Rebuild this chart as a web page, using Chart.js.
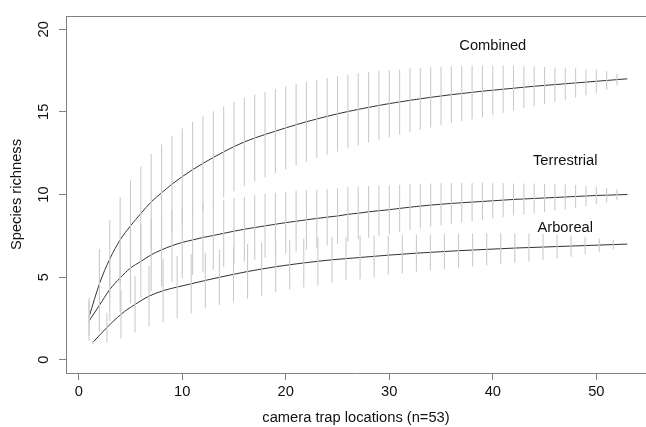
<!DOCTYPE html>
<html>
<head>
<meta charset="utf-8">
<script src="https://cdn.jsdelivr.net/npm/chart.js@4.4.1/dist/chart.umd.min.js"></script>
<style>
  html, body { margin: 0; padding: 0; background: #fff; }
  #wrap { width: 646px; height: 427px; position: relative; overflow: hidden; }
</style>
</head>
<body>
<div id="wrap"><canvas id="chart"></canvas></div>
<script>
// camera trap locations 1..53 (combined and terrestrial curves)
const sites = [1, 2, 3, 4, 5, 6, 7, 8, 9, 10, 11, 12, 13, 14, 15, 16, 17, 18, 19, 20,
  21, 22, 23, 24, 25, 26, 27, 28, 29, 30, 31, 32, 33, 34, 35, 36, 37, 38, 39, 40,
  41, 42, 43, 44, 45, 46, 47, 48, 49, 50, 51, 52, 53];

const combinedMean = [2.6, 4.6, 6.1, 7.25, 8.1, 8.85, 9.55, 10.1, 10.62, 11.08,
  11.5, 11.88, 12.24, 12.58, 12.9, 13.18, 13.42, 13.63, 13.83, 14.03,
  14.22, 14.4, 14.57, 14.73, 14.88, 15.02, 15.15, 15.27, 15.39, 15.5,
  15.6, 15.7, 15.79, 15.88, 15.96, 16.04, 16.11, 16.18, 16.25, 16.31,
  16.37, 16.43, 16.49, 16.55, 16.6, 16.65, 16.7, 16.75, 16.8, 16.85,
  16.9, 16.95, 17.0];
const combinedCi = [1.15, 2.1, 2.35, 2.6, 2.75, 2.85, 2.9, 2.92, 2.93, 2.92,
  2.9, 2.85, 2.8, 2.75, 2.7, 2.67, 2.63, 2.59, 2.54, 2.5,
  2.46, 2.42, 2.37, 2.32, 2.28, 2.23, 2.18, 2.13, 2.08, 2.02,
  1.97, 1.92, 1.87, 1.82, 1.77, 1.72, 1.67, 1.62, 1.56, 1.5,
  1.43, 1.35, 1.27, 1.2, 1.12, 1.04, 0.96, 0.88, 0.8, 0.7,
  0.56, 0.36, 0];

const terrestrialMean = [2.35, 3.3, 4.25, 4.95, 5.55, 5.95, 6.35, 6.65, 6.9, 7.1,
  7.25, 7.4, 7.52, 7.65, 7.78, 7.9, 8.0, 8.1, 8.2, 8.3,
  8.38, 8.47, 8.55, 8.63, 8.7, 8.8, 8.87, 8.95, 9.02, 9.08,
  9.16, 9.23, 9.3, 9.36, 9.41, 9.46, 9.5, 9.54, 9.58, 9.62,
  9.66, 9.7, 9.73, 9.76, 9.79, 9.82, 9.85, 9.88, 9.91, 9.94,
  9.96, 9.98, 10.0];
const terrestrialCi = [1.2, 1.6, 1.9, 2.05, 2.15, 2.2, 2.2, 2.2, 2.18, 2.15,
  2.12, 2.1, 2.06, 2.03, 2.0, 1.97, 1.95, 1.93, 1.9, 1.87,
  1.84, 1.8, 1.76, 1.72, 1.68, 1.64, 1.6, 1.56, 1.52, 1.47,
  1.43, 1.39, 1.35, 1.31, 1.27, 1.23, 1.2, 1.16, 1.13, 1.08,
  1.03, 0.97, 0.94, 0.9, 0.86, 0.81, 0.75, 0.69, 0.62, 0.53,
  0.44, 0.32, 0];

// arboreal curve is sampled at its own (rescaled) positions
const arborealSites = [1.36, 2.72, 4.08, 5.44, 6.79, 8.15, 9.51, 10.87, 12.23, 13.59,
  14.95, 16.31, 17.67, 19.03, 20.38, 21.74, 23.1, 24.46, 25.82, 27.18,
  28.54, 29.9, 31.26, 32.62, 33.97, 35.33, 36.69, 38.05, 39.41, 40.77,
  42.13, 43.49, 44.85, 46.21, 47.56, 48.92, 50.28, 51.64, 53.0];
const arborealMean = [1.05, 1.95, 2.75, 3.35, 3.85, 4.18, 4.4, 4.6, 4.8, 4.99,
  5.17, 5.34, 5.49, 5.63, 5.75, 5.86, 5.96, 6.05, 6.12, 6.19,
  6.26, 6.33, 6.39, 6.45, 6.5, 6.55, 6.6, 6.64, 6.68, 6.72,
  6.76, 6.79, 6.82, 6.85, 6.88, 6.91, 6.94, 6.97, 7.0];
const arborealCi = [0.1, 0.9, 1.44, 1.7, 1.84, 1.92, 1.88, 1.78, 1.68, 1.68,
  1.66, 1.65, 1.61, 1.55, 1.5, 1.48, 1.44, 1.38, 1.33, 1.32,
  1.26, 1.19, 1.15, 1.12, 1.09, 1.06, 1.03, 1.0, 0.97, 0.94,
  0.9, 0.85, 0.79, 0.72, 0.64, 0.53, 0.4, 0.28, 0];

// text labels placed in data units, as in the original plot
const curveLabels = [
  { text: 'Combined', x: 40, y: 19 },
  { text: 'Terrestrial', x: 47, y: 12 },
  { text: 'Arboreal', x: 47, y: 8 }
];

const FONT = '"Liberation Sans", Arial, Helvetica, sans-serif';
const AXIS_GREY = '#808080';

function curve(xs, ys) {
  return xs.map((x, i) => ({ x: x, y: ys[i] }));
}

function bars(xs, ys, ci) {
  const pts = [];
  xs.forEach((x, i) => {
    pts.push({ x: x, y: ys[i] - ci[i] });
    pts.push({ x: x, y: ys[i] + ci[i] });
    pts.push({ x: x, y: null });
  });
  return pts;
}

const barStyle = { borderColor: '#cbcbcb', borderWidth: 1.1, pointRadius: 0, spanGaps: false, fill: false };
const lineStyle = {
  borderColor: '#333333', borderWidth: 1, pointRadius: 0,
  cubicInterpolationMode: 'monotone', fill: false
};

const boxAndLabels = {
  id: 'boxAndLabels',
  afterDatasetsDraw(chart) {
    const { ctx, chartArea, scales } = chart;
    ctx.save();
    ctx.strokeStyle = AXIS_GREY;
    ctx.lineWidth = 1;
    ctx.beginPath();
    ctx.moveTo(chartArea.left, chartArea.top + 0.5);
    ctx.lineTo(chartArea.right, chartArea.top + 0.5);
    ctx.stroke();
    ctx.fillStyle = '#111';
    ctx.font = '14.7px ' + FONT;
    ctx.textAlign = 'center';
    ctx.textBaseline = 'middle';
    curveLabels.forEach(l => {
      ctx.fillText(l.text, scales.x.getPixelForValue(l.x), scales.y.getPixelForValue(l.y));
    });
    ctx.restore();
  }
};

new Chart(document.getElementById('chart'), {
  type: 'line',
  data: {
    datasets: [
      Object.assign({ data: bars(sites, combinedMean, combinedCi) }, barStyle),
      Object.assign({ data: bars(sites, terrestrialMean, terrestrialCi) }, barStyle),
      Object.assign({ data: bars(arborealSites, arborealMean, arborealCi) }, barStyle),
      Object.assign({ data: curve(sites, combinedMean) }, lineStyle),
      Object.assign({ data: curve(sites, terrestrialMean) }, lineStyle),
      Object.assign({ data: curve(arborealSites, arborealMean) }, lineStyle)
    ]
  },
  options: {
    responsive: true,
    maintainAspectRatio: false,
    animation: false,
    layout: { padding: { top: 16, right: 0, bottom: 0, left: 0 } },
    plugins: {
      legend: { display: false },
      tooltip: { enabled: false }
    },
    scales: {
      x: {
        type: 'linear',
        min: -1.23,
        max: 54.8,
        afterFit: s => { s.height = 54; },
        border: { display: true, color: AXIS_GREY, width: 1 },
        grid: { drawOnChartArea: false, drawTicks: true, tickLength: 7, color: AXIS_GREY },
        ticks: {
          stepSize: 10,
          includeBounds: false,
          color: '#111',
          font: { family: FONT, size: 14.7 },
          padding: 3,
          maxRotation: 0
        },
        title: {
          display: true,
          text: 'camera trap locations (n=53)',
          color: '#111',
          font: { family: FONT, size: 14.7 },
          padding: { top: 0, bottom: 0 }
        }
      },
      y: {
        type: 'linear',
        min: -0.8,
        max: 20.8,
        afterFit: s => { s.width = 66; },
        border: { display: true, color: AXIS_GREY, width: 1 },
        grid: { drawOnChartArea: false, drawTicks: true, tickLength: 7, color: AXIS_GREY },
        ticks: {
          stepSize: 5,
          includeBounds: false,
          color: '#111',
          font: { family: FONT, size: 14.7 },
          minRotation: 90,
          maxRotation: 90,
          crossAlign: 'center',
          padding: 7
        },
        title: {
          display: true,
          text: 'Species richness',
          color: '#111',
          font: { family: FONT, size: 14.7 },
          padding: { top: 8, bottom: 0 }
        }
      }
    }
  },
  plugins: [boxAndLabels]
});
</script>
</body>
</html>
